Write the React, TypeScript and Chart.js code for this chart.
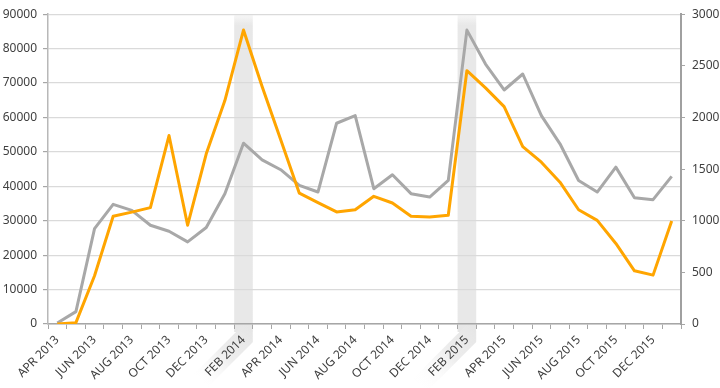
import React, { useEffect, useRef } from 'react';
import { Chart, registerables } from 'chart.js';

Chart.register(...registerables);

const months: string[] = [
  'APR 2013', 'MAY 2013', 'JUN 2013', 'JUL 2013', 'AUG 2013', 'SEP 2013', 'OCT 2013', 'NOV 2013', 'DEC 2013',
  'JAN 2014', 'FEB 2014', 'MAR 2014', 'APR 2014', 'MAY 2014', 'JUN 2014', 'JUL 2014', 'AUG 2014', 'SEP 2014',
  'OCT 2014', 'NOV 2014', 'DEC 2014',
  'JAN 2015', 'FEB 2015', 'MAR 2015', 'APR 2015', 'MAY 2015', 'JUN 2015', 'JUL 2015', 'AUG 2015', 'SEP 2015',
  'OCT 2015', 'NOV 2015', 'DEC 2015',
  'JAN 2016',
];

// orange series, left axis
const orangeValues: number[] = [
  0, 400, 14000, 31300, 32500, 33800, 54750, 28700, 49450,
  64900, 85400, 69000, 53500, 38000, 35250, 32550, 33200, 37100,
  35150, 31300, 31100,
  31600, 73600, 68600, 63150, 51550, 47000, 41200, 33200, 30100,
  23400, 15450, 14200,
  29900,
];

// gray series, right axis
const grayValues: number[] = [
  10, 120, 924, 1159, 1101, 956, 898, 795, 934,
  1262, 1751, 1590, 1494, 1342, 1278, 1944, 2018, 1310,
  1445, 1262, 1229,
  1390, 2846, 2517, 2266, 2421, 2018, 1745, 1390, 1278,
  1519, 1223, 1204,
  1429,
];

const highlightedMonths: string[] = ['FEB 2014', 'FEB 2015'];

const leftMax = 90000;
const leftStep = 10000;
const rightMax = 3000;
const rightStep = 500;

const FONT = '"Noto Sans", "DejaVu Sans", sans-serif';
const TEXT_COLOR = '#404040';
const AXIS_COLOR = '#A6A6A6';
const X_TICK_LEN = 5;
const X_LABEL_DROP = 14; // distance from axis line to end of rotated label

const bandPlugin = {
  id: 'bands',
  beforeDraw(chart: any) {
    const { ctx, chartArea, scales } = chart;
    const x = scales.x;
    const half = (x.getPixelForValue(1) - x.getPixelForValue(0)) / 2;
    const bottom = chartArea.bottom;
    highlightedMonths.forEach((m) => {
      const i = months.indexOf(m);
      if (i < 0) return;
      const c = x.getPixelForValue(i);
      const l = c - half;
      const r = c + half;
      const top = chartArea.top + 1;
      ctx.save();
      const g = ctx.createLinearGradient(0, top, 0, top + 10);
      g.addColorStop(0, 'rgba(232,232,232,0.4)');
      g.addColorStop(1, 'rgba(232,232,232,1)');
      ctx.fillStyle = g;
      ctx.fillRect(l, top, r - l, bottom - top);
      ctx.restore();

      // shading that follows the rotated label below the axis
      const py = bottom + X_LABEL_DROP;
      ctx.save();
      ctx.beginPath();
      ctx.rect(0, bottom, r, 80);
      ctx.clip();
      ctx.fillStyle = 'rgba(230,230,230,1)';
      ctx.fillRect(l, bottom, r - l, 8);
      ctx.translate(c, py);
      ctx.rotate(-Math.PI / 4);
      const w = 66;
      const h = 19;
      const g2 = ctx.createLinearGradient(12, 0, -w, 0);
      g2.addColorStop(0, 'rgba(230,230,230,1)');
      g2.addColorStop(0.45, 'rgba(236,236,236,0.95)');
      g2.addColorStop(1, 'rgba(255,255,255,0)');
      ctx.fillStyle = g2;
      ctx.fillRect(-w, -h / 2, w + 12, h);
      ctx.restore();
    });
  },
};

// rotated month labels, placed at the category positions of the x scale
const xLabelPlugin = {
  id: 'xlabels',
  afterDraw(chart: any) {
    const { ctx, chartArea, scales } = chart;
    const x = scales.x;
    ctx.save();
    ctx.fillStyle = TEXT_COLOR;
    ctx.font = `12px ${FONT}`;
    ctx.textAlign = 'right';
    ctx.textBaseline = 'middle';
    months.forEach((m, i) => {
      if (i % 2 !== 0) return;
      const c = x.getPixelForValue(i);
      ctx.save();
      ctx.translate(c, chartArea.bottom + X_LABEL_DROP);
      ctx.rotate(-Math.PI / 4);
      ctx.fillText(m, 0, 0);
      ctx.restore();
    });
    ctx.restore();
  },
};

export default function App() {
  const canvasRef = useRef<HTMLCanvasElement | null>(null);

  useEffect(() => {
    document.body.style.margin = '0';
    const canvas = canvasRef.current;
    if (!canvas) return;
    const chart = new Chart(canvas, {
      type: 'line',
      data: {
        labels: months,
        datasets: [
          {
            label: 'Orange',
            data: orangeValues,
            yAxisID: 'y',
            borderColor: '#FFA500',
            borderWidth: 3,
            pointRadius: 0,
            tension: 0,
            borderJoinStyle: 'round',
          },
          {
            label: 'Gray',
            data: grayValues,
            yAxisID: 'y1',
            borderColor: '#A8A8A8',
            borderWidth: 3,
            pointRadius: 0,
            tension: 0,
            borderJoinStyle: 'round',
          },
        ],
      },
      options: {
        responsive: false,
        animation: false,
        devicePixelRatio: 1,
        layout: { padding: { top: 13, left: 0, right: 0, bottom: 0 } },
        plugins: { legend: { display: false }, tooltip: { enabled: false } },
        scales: {
          x: {
            type: 'category',
            offset: true,
            grid: { offset: true, drawOnChartArea: false, drawTicks: true, tickLength: X_TICK_LEN, color: AXIS_COLOR, tickColor: AXIS_COLOR },
            border: { display: true, color: AXIS_COLOR, width: 1.5 },
            ticks: { display: false, autoSkip: false },
            afterFit: (scale: any) => {
              scale.height = 64;
              scale.paddingLeft = 0;
              scale.paddingRight = 0;
            },
          },
          y: {
            type: 'linear', position: 'left', min: 0, max: leftMax,
            grid: { color: '#DADADA', lineWidth: 1.2, tickLength: 5, tickColor: AXIS_COLOR },
            border: { display: true, color: '#B8B8B8', width: 1.5 },
            ticks: { stepSize: leftStep, padding: 6, color: TEXT_COLOR, font: { family: FONT, size: 12 }, callback: (v: any) => String(v) },
            afterFit: (scale: any) => { scale.width = 48; },
          },
          y1: {
            type: 'linear', position: 'right', min: 0, max: rightMax,
            grid: { drawOnChartArea: false, tickLength: 4, tickColor: AXIS_COLOR },
            border: { display: true, color: '#A0A0A0', width: 2 },
            ticks: { stepSize: rightStep, padding: 7, color: TEXT_COLOR, font: { family: FONT, size: 12 }, callback: (v: any) => String(v) },
            afterFit: (scale: any) => { scale.width = 39; },
          },
        },
      },
      plugins: [bandPlugin, xLabelPlugin],
    } as any);
    return () => chart.destroy();
  }, []);

  return (
    <div style={{ width: 720, height: 388, background: '#fff' }}>
      <canvas ref={canvasRef} width={720} height={388} style={{ display: 'block' }} />
    </div>
  );
}
